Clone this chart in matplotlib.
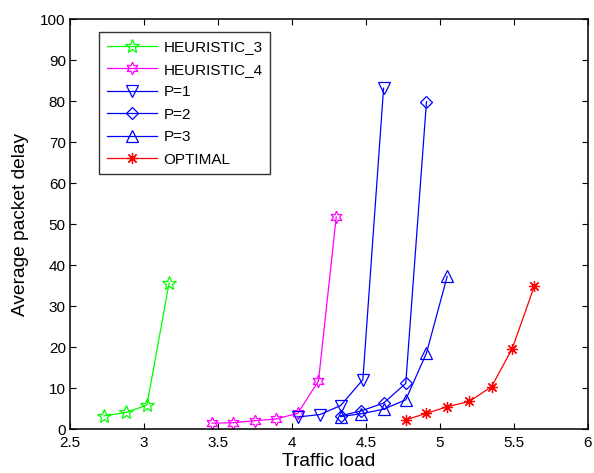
import matplotlib
matplotlib.use("Agg")
import matplotlib.pyplot as plt

plt.rcParams['font.family'] = ['Liberation Sans', 'DejaVu Sans']

h3_x = [2.73, 2.88, 3.02, 3.17]
h3_y = [3.3, 4.1, 5.9, 35.7]
h4_x = [3.46, 3.60, 3.75, 3.89, 4.04, 4.18, 4.30]
h4_y = [1.5, 1.6, 2.1, 2.5, 3.9, 11.8, 51.8]
p1_x = [4.04, 4.19, 4.33, 4.48, 4.62]
p1_y = [3.0, 3.6, 5.8, 12.1, 83.2]
p2_x = [4.33, 4.47, 4.62, 4.77, 4.91]
p2_y = [3.3, 4.5, 6.4, 11.2, 79.9]
p3_x = [4.33, 4.47, 4.62, 4.77, 4.91, 5.05]
p3_y = [3.1, 3.8, 4.9, 7.2, 18.6, 37.3]
opt_x = [4.77, 4.91, 5.05, 5.20, 5.35, 5.49, 5.64]
opt_y = [2.3, 3.9, 5.5, 6.8, 10.4, 19.7, 35.0]

x_ticks = [2.5, 3, 3.5, 4, 4.5, 5, 5.5, 6]
x_tick_labels = ['2.5', '3', '3.5', '4', '4.5', '5', '5.5', '6']
y_ticks = list(range(0, 101, 10))

fig = plt.figure(figsize=(5.94, 4.73), dpi=100)
ax = fig.add_axes([70/594, 1 - 429.3/473, 517.7/594, 410/473])

lw = 0.9
ms = 8
ax.plot(h3_x, h3_y, color=(0, 1, 0), lw=lw, marker='*', ms=10, mfc='none', mec=(0, 1, 0), mew=0.9, label='HEURISTIC_3')
ax.plot(h4_x, h4_y, color=(1, 0, 1), lw=lw, marker=(6, 1, 0), ms=9, mfc='none', mec=(1, 0, 1), mew=0.9, label='HEURISTIC_4')
ax.plot(p1_x, p1_y, color=(0, 0, 1), lw=lw, marker='v', ms=ms + 1, mfc='none', mec=(0, 0, 1), mew=0.9, label='P=1')
ax.plot(p2_x, p2_y, color=(0, 0, 1), lw=lw, marker='D', ms=ms - 2, mfc='none', mec=(0, 0, 1), mew=0.9, label='P=2')
ax.plot(p3_x, p3_y, color=(0, 0, 1), lw=lw, marker='^', ms=ms + 1, mfc='none', mec=(0, 0, 1), mew=0.9, label='P=3')
ax.plot(opt_x, opt_y, color=(1, 0, 0), lw=lw, marker=(8, 2, 0), ms=8, mfc='none', mec=(1, 0, 0), mew=0.9, label='OPTIMAL')

ax.set_xlim(2.5, 6)
ax.set_ylim(0, 100)
ax.set_xticks(x_ticks)
ax.set_xticklabels(x_tick_labels)
ax.set_yticks(y_ticks)
ax.tick_params(direction='in', top=True, right=True, length=4, width=0.8, labelsize=11)
ax.tick_params(axis='x', pad=5)
ax.tick_params(axis='y', pad=3)
for s in ax.spines.values():
    s.set_linewidth(1.1)

ax.set_xlabel('Traffic load', fontsize=13.8, labelpad=2)
ax.set_ylabel('Average packet delay', fontsize=13.8, labelpad=8)

leg = ax.legend(loc='upper left', bbox_to_anchor=(0.0566, 0.968), borderaxespad=0,
                fontsize=11, handlelength=3.3, handletextpad=0.4, labelspacing=0.56,
                frameon=True, fancybox=False, edgecolor='black', borderpad=0.5)
leg.get_frame().set_linewidth(1.0)

fig.savefig('out.png', dpi=100)
